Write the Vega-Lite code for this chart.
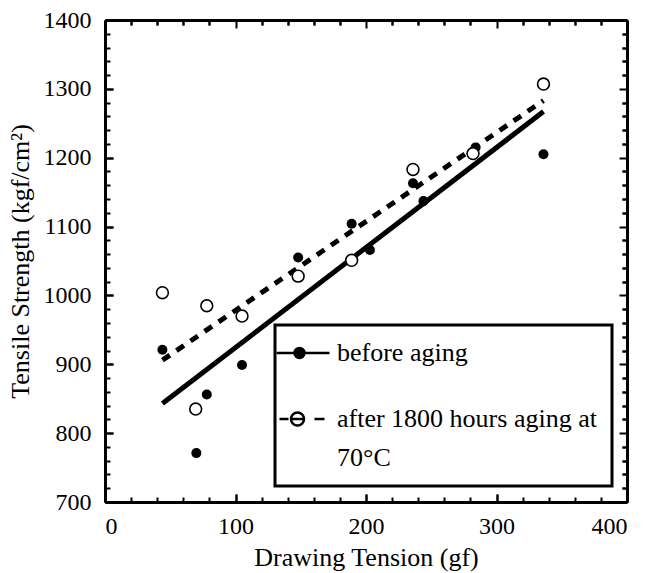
{
  "$schema": "https://vega.github.io/schema/vega-lite/v6.json",
  "width": 522,
  "height": 482,
  "autosize": "none",
  "padding": {"left": 105, "top": 20, "right": 20, "bottom": 71},
  "background": "white",
  "config": {
    "font": "Liberation Serif",
    "view": {"stroke": null},
    "axis": {
      "domainColor": "black",
      "domainWidth": 3,
      "tickColor": "black",
      "tickWidth": 2,
      "gridColor": "black",
      "gridWidth": 2,
      "gridOpacity": 1,
      "labelColor": "black",
      "labelFontSize": 24,
      "labelFont": "Liberation Serif",
      "titleFont": "Liberation Serif",
      "titleFontSize": 26,
      "titleFontWeight": "normal",
      "titleColor": "black"
    },
    "legend": {
      "strokeColor": "black",
      "strokeWidth": 3,
      "labelFont": "Liberation Serif",
      "labelFontSize": 26,
      "labelColor": "black",
      "labelLimit": 400
    },
    "style": {"guide-label": {"lineHeight": 39}}
  },
  "datasets": {
    "pts": [
      {"tension": 44, "strength": 921, "series": "before"},
      {"tension": 70, "strength": 771, "series": "before"},
      {"tension": 78, "strength": 856, "series": "before"},
      {"tension": 105, "strength": 899, "series": "before"},
      {"tension": 148, "strength": 1055, "series": "before"},
      {"tension": 189, "strength": 1104, "series": "before"},
      {"tension": 203, "strength": 1066, "series": "before"},
      {"tension": 236, "strength": 1163, "series": "before"},
      {"tension": 244, "strength": 1137, "series": "before"},
      {"tension": 284, "strength": 1215, "series": "before"},
      {"tension": 336, "strength": 1205, "series": "before"},
      {"tension": 44, "strength": 1004, "series": "after"},
      {"tension": 69.5, "strength": 835, "series": "after"},
      {"tension": 78, "strength": 985, "series": "after"},
      {"tension": 105, "strength": 970, "series": "after"},
      {"tension": 148, "strength": 1028, "series": "after"},
      {"tension": 189, "strength": 1051, "series": "after"},
      {"tension": 236, "strength": 1183, "series": "after"},
      {"tension": 282, "strength": 1206, "series": "after"},
      {"tension": 336, "strength": 1307, "series": "after"}
    ],
    "fits": [
      {"tension": 44, "strength": 843, "series": "before"},
      {"tension": 336, "strength": 1267, "series": "before"},
      {"tension": 44, "strength": 906, "series": "after"},
      {"tension": 336, "strength": 1283, "series": "after"}
    ]
  },
  "layer": [
    {
      "data": {"name": "fits"},
      "transform": [{"filter": "datum.series === 'before'"}],
      "mark": {"type": "line", "color": "black", "strokeWidth": 5},
      "encoding": {
        "x": {
          "field": "tension", "type": "quantitative",
          "scale": {"domain": [0, 400], "nice": false, "zero": false},
          "axis": {
            "title": "Drawing Tension (gf)",
            "values": [0, 100, 200, 300, 400],
            "ticks": true,
            "tickSize": -8,
            "grid": true,
            "gridDash": [8, 466, 8],
            "labelPadding": 20,
            "titlePadding": 6
          }
        },
        "y": {
          "field": "strength", "type": "quantitative",
          "scale": {"domain": [700, 1400], "nice": false, "zero": false},
          "axis": {
            "title": "Tensile Strength (kgf/cm²)",
            "values": [700, 800, 900, 1000, 1100, 1200, 1300, 1400],
            "format": "d",
            "ticks": true,
            "tickSize": -8,
            "grid": true,
            "gridDash": [8, 506, 8],
            "labelPadding": 22,
            "titlePadding": 10
          }
        }
      }
    },
    {
      "data": {"name": "fits"},
      "transform": [{"filter": "datum.series === 'after'"}],
      "mark": {"type": "line", "color": "black", "strokeWidth": 5, "strokeDash": [9, 8]},
      "encoding": {
        "x": {
          "field": "tension", "type": "quantitative",
          "scale": {"domain": [0, 400], "nice": false, "zero": false},
          "axis": {
            "orient": "top", "title": null, "labels": false,
            "values": [20,40,60,80,120,140,160,180,220,240,260,280,320,340,360,380],
            "ticks": true,
            "tickSize": -5,
            "grid": true,
            "gridDash": [5, 472, 5]
          }
        },
        "y": {
          "field": "strength", "type": "quantitative",
          "scale": {"domain": [700, 1400], "nice": false, "zero": false},
          "axis": {
            "orient": "right", "title": null, "labels": false,
            "values": [720,740,760,780,820,840,860,880,920,940,960,980,1020,1040,1060,1080,1120,1140,1160,1180,1220,1240,1260,1280,1320,1340,1360,1380],
            "ticks": true,
            "tickSize": -5,
            "grid": true,
            "gridDash": [5, 512, 5]
          }
        }
      }
    },
    {
      "data": {"name": "pts"},
      "transform": [{"filter": "datum.series === 'before'"}],
      "mark": {"type": "point", "shape": "circle", "filled": true, "fill": "black", "stroke": "black", "strokeWidth": 0, "size": 100, "opacity": 1},
      "encoding": {
        "x": {"field": "tension", "type": "quantitative", "axis": null},
        "y": {"field": "strength", "type": "quantitative", "axis": null}
      }
    },
    {
      "data": {"name": "pts"},
      "transform": [{"filter": "datum.series === 'after'"}],
      "mark": {"type": "point", "shape": "circle", "filled": false, "fill": "white", "stroke": "black", "strokeWidth": 1.6, "size": 140, "opacity": 1},
      "encoding": {
        "x": {"field": "tension", "type": "quantitative", "axis": null},
        "y": {"field": "strength", "type": "quantitative", "axis": null}
      }
    },
    {
      "data": {"name": "fits"},
      "mark": {"type": "point", "fillOpacity": 0, "strokeOpacity": 0, "filled": false, "size": 400},
      "encoding": {
        "x": {"field": "tension", "type": "quantitative", "axis": null},
        "y": {"field": "strength", "type": "quantitative", "axis": null},
        "shape": {
          "field": "series", "type": "nominal",
          "scale": {
            "domain": ["before", "after"],
            "range": [
              "M-2.65,0L2.65,0M-0.85,0A0.5,0.5 0 1,0 0.15,0A0.5,0.5 0 1,0 -0.85,0ZM-0.65,0A0.3,0.3 0 1,0 -0.05,0A0.3,0.3 0 1,0 -0.65,0ZM-0.45,0A0.1,0.1 0 1,0 -0.25,0A0.1,0.1 0 1,0 -0.45,0Z",
              "M-2.35,0L-1.45,0M-1.2,0A0.65,0.65 0 1,0 0.1,0A0.65,0.65 0 1,0 -1.2,0ZM-1.2,0L0.1,0M1.15,0L2.15,0"
            ]
          },
          "legend": {
            "title": null,
            "orient": "none",
            "legendX": 170,
            "legendY": 305,
            "padding": 15,
            "symbolSize": 400,
            "symbolStrokeWidth": 2.5,
            "symbolStrokeColor": "black",
            "symbolOpacity": 1,
            "labelOffset": 21,
            "rowPadding": 40,
            "labelExpr": "datum.value === 'before' ? 'before aging' : ['after 1800 hours aging at', '70°C']"
          }
        }
      }
    }
  ],
  "resolve": {"axis": {"x": "independent", "y": "independent"}}
}
